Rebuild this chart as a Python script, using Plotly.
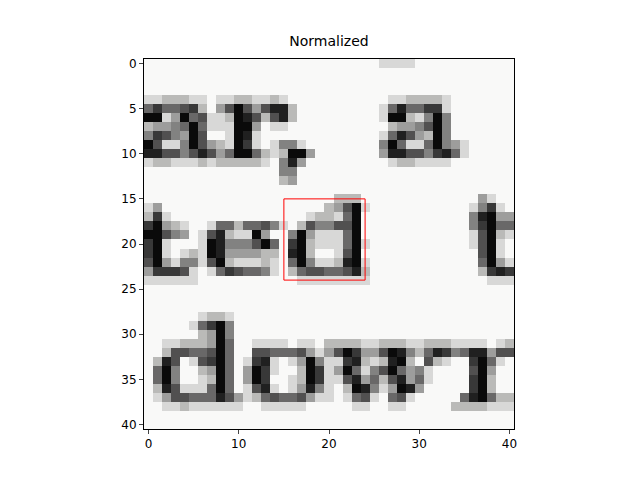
import plotly.graph_objects as go

# darkness per pixel, 0 = white .. 9 = black, 41 x 41
rows = [
    "0000000000 0000000000 0000001111 0000000000 0",
    "0000000000 0000000000 0000000000 0000000000 0",
    "0000000000 0000000000 0000000000 0000000000 0",
    "0000000000 0000000000 0000000000 0000000000 0",
    "1122211011 2211210000 0000000112 2221000000 0",
    "5755672036 9636882000 0000001585 5771000000 0",
    "9913956112 9862682000 0000001992 1494000000 0",
    "2334595111 9930110000 0000000233 4694000000 0",
    "4764396001 9810000000 0000001586 3294000000 0",
    "9611496321 9710144100 0000004951 1594310000 0",
    "8866468635 9952129930 0000003886 6478510000 0",
    "1221112122 2221048300 0000000122 1111000000 0",
    "0000000000 0000044000 0000000000 0000000000 0",
    "0000000000 0000023000 0000000000 0000000000 0",
    "0000000000 0000000000 0000000000 0000000000 0",
    "0000000000 0000000000 0222000000 0000000310 0",
    "1300000000 0000000000 2369100000 0000001471 0",
    "2710000000 0000000012 2159000000 0000004893 3",
    "7932100155 2556410264 4669000000 0000004795 5",
    "9964301682 1193004931 1159000000 0000001692 1",
    "7910001984 4469507921 1159100000 0000001691 0",
    "7910121983 3332208920 0169000000 0000000691 0",
    "6931441692 1112105941 1289100000 0000000593 1",
    "3777610157 6554102566 5568200000 0000000278 7",
    "1111110000 0000000111 1111100000 0000000011 1",
    "0000000000 0000000000 0000000000 0000000000 0",
    "0000000000 0000000000 0000000000 0000000000 0",
    "0000000000 0000000000 0000000000 0000000000 0",
    "0000001221 0000000000 0000000000 0000000000 0",
    "0000015794 0000000000 0000000000 0000000000 0",
    "0000002394 0000000000 0000000000 0000000000 0",
    "0011222395 0011110110 2222112221 1222111101 2",
    "0026655695 0066555631 3697336984 2587458836 6",
    "0286016795 0178101394 1178212892 0621007951 0",
    "0594002395 0397100297 1395146953 4100006930 0",
    "0594001295 0397001297 1168352683 5100007920 0",
    "0286111595 0168101384 1029841398 3000007920 0",
    "0136655586 3125655631 1015610561 0000058952 2",
    "0011211111 1001111100 0001100110 0000222211 1",
    "0000000000 0000000000 0000000000 0000000000 0",
    "0000000000 0000000000 0000000000 0000000000 0",
]
box = [15, 24, 15, 24]  # x0, x1, y0, y1 in pixel coords

z = [[0.985 - int(c) / 9 * 0.93 for c in r.replace(" ", "")] for r in rows]

fig = go.Figure(go.Heatmap(
    z=z, colorscale="gray", zmin=0, zmax=1, showscale=False, hoverinfo="skip"
))
fig.add_shape(type="rect", x0=box[0], x1=box[1], y0=box[2], y1=box[3],
              line=dict(color="red", width=1))

fig.update_layout(
    width=640, height=480,
    margin=dict(l=136, r=134, t=51, b=59),
    paper_bgcolor="white", plot_bgcolor="white",
    font=dict(family="DejaVu Sans", size=12, color="black"),
    title=dict(text="Normalized", x=0.5, xref="paper", y=0.92, yanchor="bottom",
               font=dict(size=14)),
)
axis = dict(range=[-0.5, 40.5], tickvals=[0, 10, 20, 30, 40], ticks="outside",
            ticklen=4, showline=True, linecolor="black", mirror=True,
            showgrid=False, zeroline=False)
fig.update_xaxes(**axis)
fig.update_yaxes(**dict(axis, range=[40.5, -0.5], tickvals=list(range(0, 41, 5))),
                 scaleanchor="x", scaleratio=1)

fig.write_html("out.html")
